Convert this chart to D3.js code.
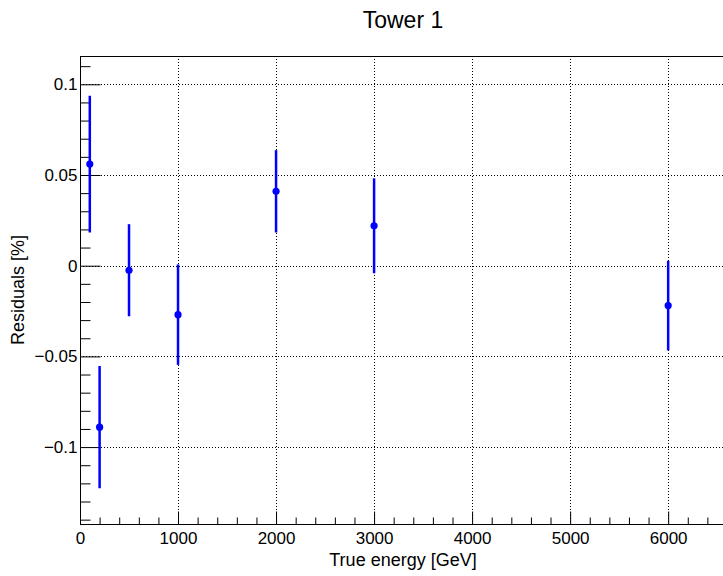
<!DOCTYPE html>
<html>
<head>
<meta charset="utf-8">
<script src="https://cdn.jsdelivr.net/npm/d3@7"></script>
<style>
  body { margin: 0; background: #fff; }
  svg { font-family: "Liberation Sans", Arial, sans-serif; }
</style>
</head>
<body>
<div id="chart"></div>
<script>
// values
var energies  = [100, 200, 500, 1000, 2000, 3000, 6000];
var residuals = [0.056, -0.089, -0.0025, -0.027, 0.041, 0.022, -0.022];
var errors    = [0.037, 0.033, 0.0247, 0.027, 0.022, 0.0255, 0.024];

var xMajor = [0, 1000, 2000, 3000, 4000, 5000, 6000];
var yMajor = [-0.1, -0.05, 0, 0.05, 0.1];
var titleText = "Tower 1";
var xTitle = "True energy [GeV]";
var yTitle = "Residuals [%]";

var W = 723, H = 576;
var margin = {top: 56, left: 80, right: -3, bottom: 52};

var svg = d3.select("#chart").append("svg")
  .attr("width", W).attr("height", H)
  .style("background", "#fff");

var x = d3.scaleLinear().domain([0, 6590]).range([margin.left, W - margin.right]);
var y = d3.scaleLinear().domain([-0.1424, 0.1156]).range([H - margin.bottom, margin.top]);

var x0 = x.range()[0], x1 = x.range()[1];
var y0 = y.range()[0], y1 = y.range()[1];

//grid
var grid = svg.append("g").attr("stroke", "#000").attr("stroke-width", 1)
  .attr("stroke-dasharray", "1,2");
grid.selectAll("line.gx").data(xMajor.filter(function(d){ return d > 0; })).enter()
  .append("line").attr("class", "gx")
  .attr("x1", function(d){ return Math.round(x(d)) + 0.5; })
  .attr("x2", function(d){ return Math.round(x(d)) + 0.5; })
  .attr("y1", y1).attr("y2", y0);
grid.selectAll("line.gy").data(yMajor).enter()
  .append("line").attr("class", "gy")
  .attr("y1", function(d){ return Math.round(y(d)) + 0.5; })
  .attr("y2", function(d){ return Math.round(y(d)) + 0.5; })
  .attr("x1", x0).attr("x2", x1);

//frame
svg.append("rect").attr("x", x0 + 0.5).attr("y", y1 + 0.5)
  .attr("width", x1 - x0).attr("height", y0 - y1)
  .attr("fill", "none").attr("stroke", "#000").attr("stroke-width", 1);

//minor ticks
var xMinor = d3.range(0, 6600, 200).filter(function(d){ return d % 1000 !== 0; });
var yMinor = d3.range(-14, 12).map(function(i){ return i / 100; })
  .filter(function(d){ return Math.abs(Math.round(d * 100) % 5) !== 0; });

svg.append("g").attr("transform", "translate(0," + (y0 + 0.5) + ")")
  .call(d3.axisBottom(x).tickValues(xMinor).tickSizeInner(-7).tickSizeOuter(0).tickFormat(""))
  .call(function(g){ g.select(".domain").remove(); });
svg.append("g").attr("transform", "translate(" + (x0 + 0.5) + ",0)")
  .call(d3.axisLeft(y).tickValues(yMinor).tickSizeInner(-10).tickSizeOuter(0).tickFormat(""))
  .call(function(g){ g.select(".domain").remove(); });

//major ticks + labels
var fmt = d3.format("~g");
var xAxis = svg.append("g").attr("transform", "translate(0," + (y0 + 0.5) + ")")
  .call(d3.axisBottom(x).tickValues(xMajor).tickSizeInner(-13).tickSizeOuter(0).tickPadding(7)
    .tickFormat(function(d){ return d; }));
var yAxis = svg.append("g").attr("transform", "translate(" + (x0 + 0.5) + ",0)")
  .call(d3.axisLeft(y).tickValues(yMajor).tickSizeInner(-20).tickSizeOuter(0).tickPadding(3)
    .tickFormat(function(d){ return d === 0 ? "0" : fmt(d); }));
[xAxis, yAxis].forEach(function(a){
  a.select(".domain").remove();
  a.selectAll("text").attr("font-size", "17px").attr("fill", "#000")
    .attr("font-family", "Liberation Sans, Arial, sans-serif");
});

//error bars
var pts = energies.map(function(e, i){ return {e: e, r: residuals[i], err: errors[i]}; });
svg.append("g").selectAll("line").data(pts).enter().append("line")
  .attr("x1", function(d){ return x(d.e); })
  .attr("x2", function(d){ return x(d.e); })
  .attr("y1", function(d){ return y(d.r + d.err); })
  .attr("y2", function(d){ return y(d.r - d.err); })
  .attr("stroke", "#0000ff").attr("stroke-width", 2.5).attr("stroke-linecap", "square");
svg.append("g").selectAll("circle").data(pts).enter().append("circle")
  .attr("cx", function(d){ return x(d.e); })
  .attr("cy", function(d){ return y(d.r); })
  .attr("r", 3.6)
  .attr("fill", "#0000ff");

//titles
svg.append("text").text(titleText)
  .attr("x", (x0 + x1) / 2).attr("y", 28)
  .attr("text-anchor", "middle").attr("font-size", "23px").attr("fill", "#000");
svg.append("text").text(xTitle)
  .attr("x", (x0 + x1) / 2).attr("y", 566)
  .attr("text-anchor", "middle").attr("font-size", "18px").attr("fill", "#000");
svg.append("text").text(yTitle)
  .attr("transform", "translate(24," + ((y0 + y1) / 2) + ") rotate(-90)")
  .attr("text-anchor", "middle").attr("font-size", "18px").attr("fill", "#000");
</script>
</body>
</html>
